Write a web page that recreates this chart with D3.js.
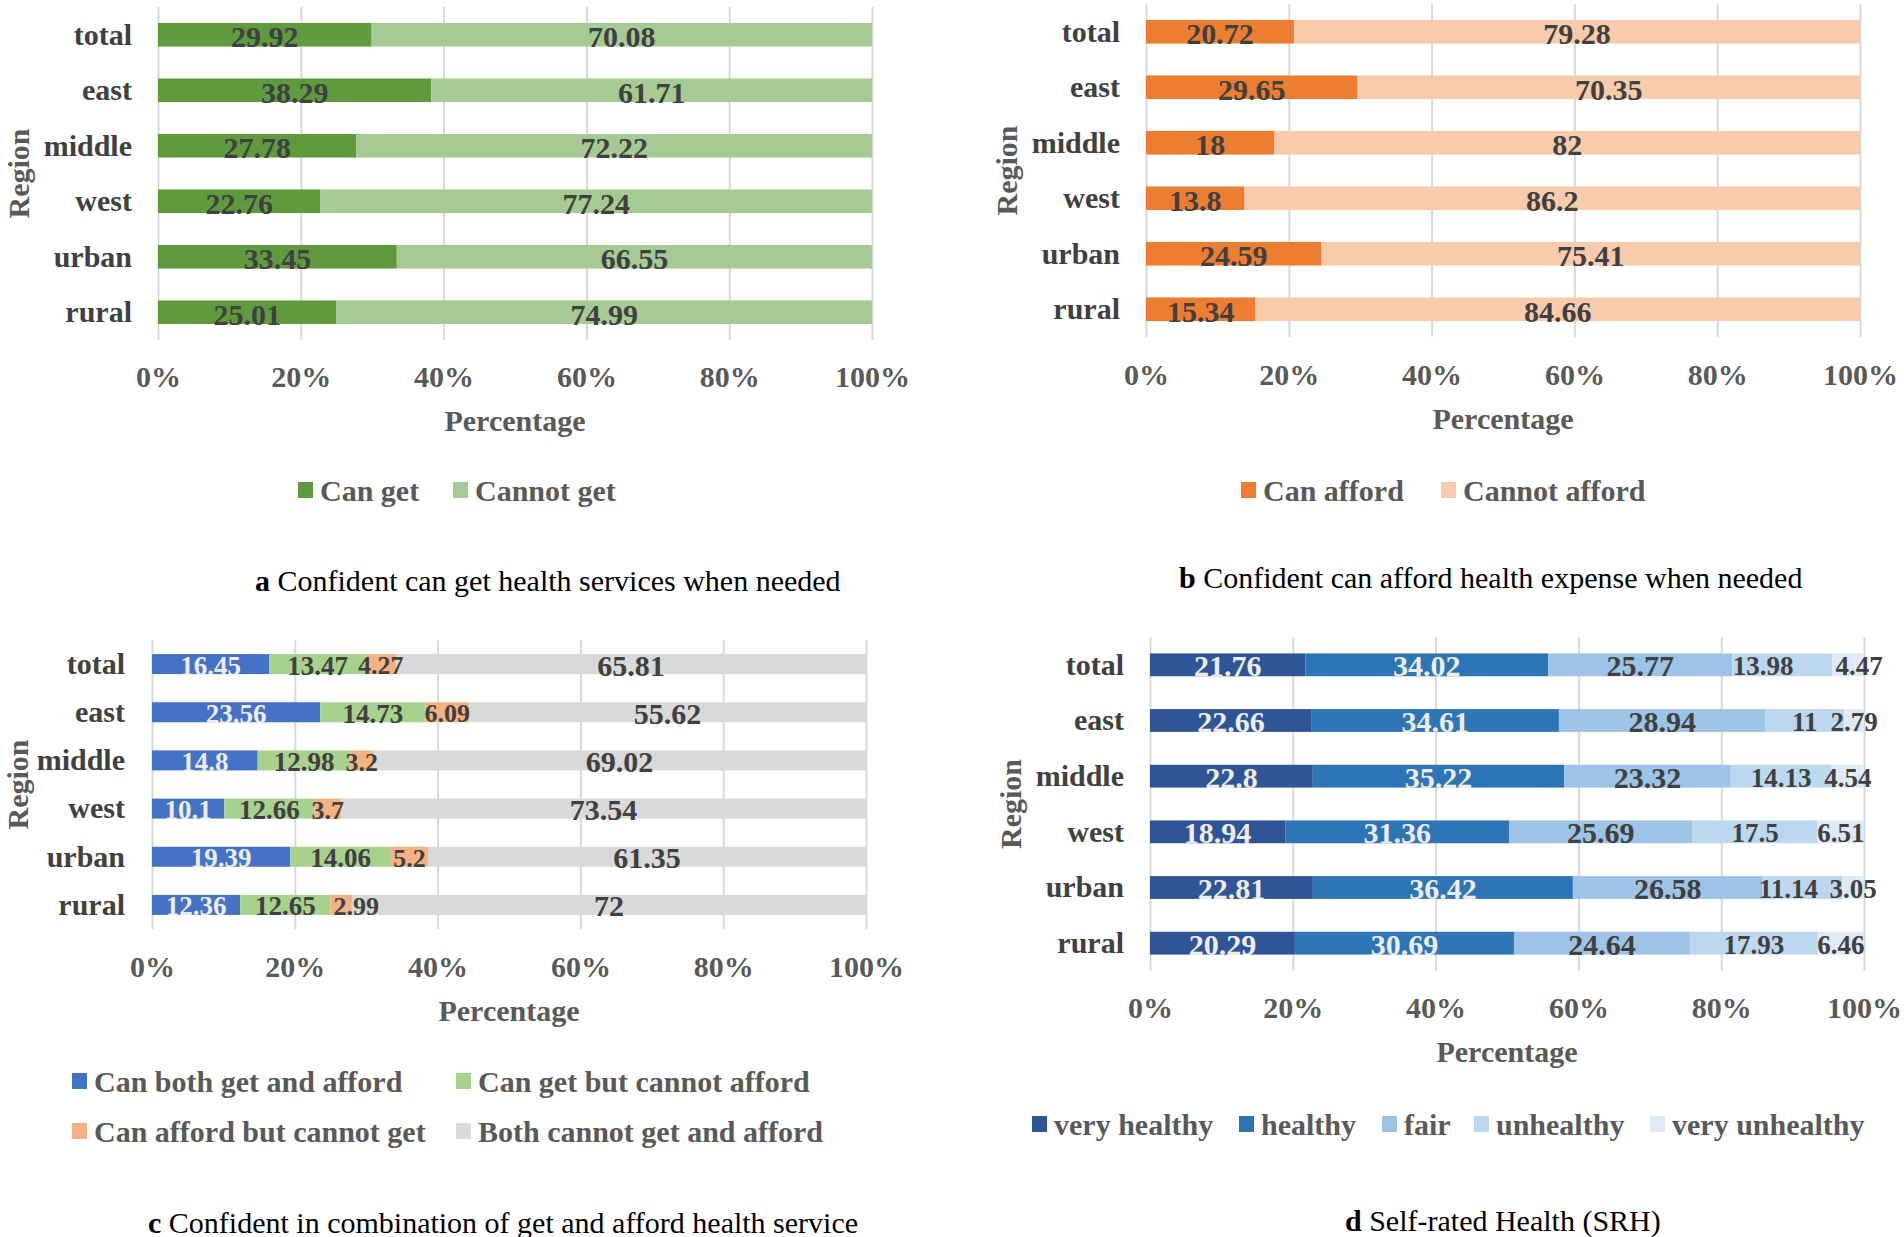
<!DOCTYPE html>
<html><head><meta charset="utf-8">
<script src="https://cdn.jsdelivr.net/npm/d3@7"></script>
<style>
html,body{margin:0;padding:0;background:#fff;}
svg{display:block;}
text{font-family:"Liberation Serif","Times New Roman",serif;}
</style></head>
<body>
<svg id="chart" width="1904" height="1237"></svg>
<script>
// ---------- data ----------
const regions = ["total","east","middle","west","urban","rural"];
const tickValues = [0,20,40,60,80,100];

const getNames = ["Can get","Cannot get"];
const getCan = [29.92,38.29,27.78,22.76,33.45,25.01];
const getCannot = [70.08,61.71,72.22,77.24,66.55,74.99];

const affordNames = ["Can afford","Cannot afford"];
const affordCan = [20.72,29.65,18,13.8,24.59,15.34];
const affordCannot = [79.28,70.35,82,86.2,75.41,84.66];

const comboNames = ["Can both get and afford","Can get but cannot afford","Can afford but cannot get","Both cannot get and afford"];
const comboBoth = [16.45,23.56,14.8,10.1,19.39,12.36];
const comboGetOnly = [13.47,14.73,12.98,12.66,14.06,12.65];
const comboAffordOnly = [4.27,6.09,3.2,3.7,5.2,2.99];
const comboNeither = [65.81,55.62,69.02,73.54,61.35,72];

const srhNames = ["very healthy","healthy","fair","unhealthy","very unhealthy"];
const srhVeryHealthy = [21.76,22.66,22.8,18.94,22.81,20.29];
const srhHealthy = [34.02,34.61,35.22,31.36,36.42,30.69];
const srhFair = [25.77,28.94,23.32,25.69,26.58,24.64];
const srhUnhealthy = [13.98,11,14.13,17.5,11.14,17.93];
const srhVeryUnhealthy = [4.47,2.79,4.54,6.51,3.05,6.46];

const titles = [
  ["a","Confident can get health services when needed"],
  ["b","Confident can afford health expense when needed"],
  ["c","Confident in combination of get and afford health service"],
  ["d","Self-rated Health (SRH)"]
];

// ---------- drawing ----------
const svg = d3.select("#chart");
const DARK = "#404040", GREY = "#595959", LIGHT = "#ececec";
const FONT = '"Liberation Serif","Times New Roman",serif';

function panel(cfg){
  const g = svg.append("g");
  const x = d3.scaleLinear().domain([0,100]).range([cfg.x0,cfg.x1]);
  const y = d3.scaleBand().domain(regions).range([cfg.gTop,cfg.gBot]).paddingInner(cfg.pad).paddingOuter(cfg.pad/2);

  // gridlines
  const grid = g.append("g").attr("transform",`translate(0,${cfg.gBot})`)
    .call(d3.axisBottom(x).tickValues(tickValues).tickSize(-(cfg.gBot-cfg.gTop)).tickFormat(""));
  grid.select(".domain").remove();
  grid.selectAll("line").attr("stroke","#d9d9d9").attr("stroke-width",2);

  // tick labels
  const ax = g.append("g").attr("transform",`translate(0,${cfg.tickY-10})`)
    .call(d3.axisBottom(x).tickValues(tickValues).tickSize(0).tickPadding(0).tickFormat(d=>d+"%"));
  ax.select(".domain").remove();
  ax.selectAll("text").attr("font-size",30).attr("font-weight","bold").attr("fill",GREY)
    .attr("font-family",FONT).attr("dy","0.7em");

  // category labels
  const ay = g.append("g").attr("transform",`translate(${cfg.x0},0)`)
    .call(d3.axisLeft(y).tickSize(0).tickPadding(cfg.x0-cfg.catR));
  ay.select(".domain").remove();
  ay.selectAll("text").attr("font-size",30).attr("font-weight","bold").attr("fill",DARK)
    .attr("font-family",FONT).attr("dy","0.33em");

  // stacked bars
  const rows = regions.map((r,i)=>{
    const vals = cfg.series.map(s=>s[i]);
    const tot = d3.sum(vals);
    let acc = 0;
    return vals.map((v,k)=>{const s0=acc/tot*100; acc+=v; return {r, k, v, s0, s1:acc/tot*100};});
  });
  const segs = rows.flat();
  const nudge = cfg.nudge || {};
  g.append("g").selectAll("rect").data(segs).join("rect")
    .attr("x",d=>x(d.s0)).attr("width",d=>x(d.s1)-x(d.s0))
    .attr("y",d=>y(d.r)).attr("height",y.bandwidth())
    .attr("fill",d=>cfg.colors[d.k]);
  g.append("g").selectAll("text").data(segs).join("text")
    .attr("x",d=>(x(d.s0)+x(d.s1))/2 + (nudge[d.r+"-"+d.k]||0))
    .attr("y",d=>y(d.r)+y.bandwidth()/2+cfg.ldy)
    .attr("dy","0.35em").attr("text-anchor","middle")
    .attr("font-size",d=>cfg.lsize[d.k]).attr("font-weight","bold")
    .attr("fill",d=>cfg.lcolor[d.k])
    .text(d=>d.v);

  // axis titles
  g.append("text").attr("x",(cfg.x0+cfg.x1)/2).attr("y",cfg.pctY).attr("dy","0.35em")
    .attr("text-anchor","middle").attr("font-size",30).attr("font-weight","bold").attr("fill",GREY).text("Percentage");
  g.append("text").attr("transform",`translate(${cfg.regX},${(cfg.gTop+cfg.gBot)/2}) rotate(-90)`)
    .attr("dy","0.35em").attr("text-anchor","middle").attr("font-size",30).attr("font-weight","bold").attr("fill",GREY).text("Region");

  // legend
  const lg = g.append("g").selectAll("g").data(cfg.names).join("g")
    .attr("transform",(d,i)=>`translate(${cfg.leg[i][0]},${cfg.leg[i][1]})`);
  lg.append("rect").attr("x",0).attr("y",-8).attr("width",15).attr("height",16).attr("fill",(d,i)=>cfg.colors[i]);
  lg.append("text").attr("x",22).attr("y",0).attr("dy","0.35em").attr("font-size",30).attr("font-weight","bold")
    .attr("fill",GREY).text(d=>d);

  // title
  const t = g.append("text").attr("x",cfg.tX).attr("y",cfg.tY).attr("dy","0.35em").attr("font-size",30).attr("fill","#000");
  t.append("tspan").attr("font-weight","bold").text(cfg.title[0]);
  t.append("tspan").text(" "+cfg.title[1]);
}

panel({series:[getCan,getCannot],names:getNames,colors:["#5f9a3e","#a5ca93"],
  lcolor:[DARK,DARK],lsize:[30,30],ldy:2,
  x0:158,x1:872,gTop:7,gBot:340,pad:0.575,catR:132,tickY:376,pctY:420,regX:18,
  leg:[[298,490],[453,490]],title:titles[0],tX:255,tY:580});

panel({series:[affordCan,affordCannot],names:affordNames,colors:["#ed7d31","#f8cbad"],
  lcolor:[DARK,DARK],lsize:[30,30],ldy:2,
  x0:1146,x1:1860,gTop:4,gBot:337,pad:0.575,catR:1120,tickY:374,pctY:418,regX:1006,
  leg:[[1241,490],[1441,490]],title:titles[1],tX:1179,tY:577});

panel({series:[comboBoth,comboGetOnly,comboAffordOnly,comboNeither],names:comboNames,
  colors:["#4472c4","#a9d18e","#f4b183","#d9d9d9"],
  lcolor:[LIGHT,DARK,DARK,DARK],lsize:[27,27,26,30],ldy:1,
  nudge:{"rural-2":15},
  x0:152,x1:866,gTop:640,gBot:929,pad:0.585,catR:125,tickY:966,pctY:1010,regX:17,
  leg:[[72,1081],[456,1081],[72,1131],[456,1131]],title:titles[2],tX:148,tY:1222});

panel({series:[srhVeryHealthy,srhHealthy,srhFair,srhUnhealthy,srhVeryUnhealthy],names:srhNames,
  colors:["#2f5597","#2e75b6","#9dc3e6","#bdd7ee","#deebf7"],
  lcolor:[LIGHT,LIGHT,DARK,DARK,DARK],lsize:[30,30,30,27,27],ldy:1,
  nudge:{"total-3":-19,"total-4":11,"urban-3":-14},
  x0:1150,x1:1864,gTop:637,gBot:971,pad:0.59,catR:1124,tickY:1007,pctY:1051,regX:1010,
  leg:[[1032,1124],[1239,1124],[1382,1124],[1474,1124],[1650,1124]],title:titles[3],tX:1345,tY:1220});
</script>
</body></html>
